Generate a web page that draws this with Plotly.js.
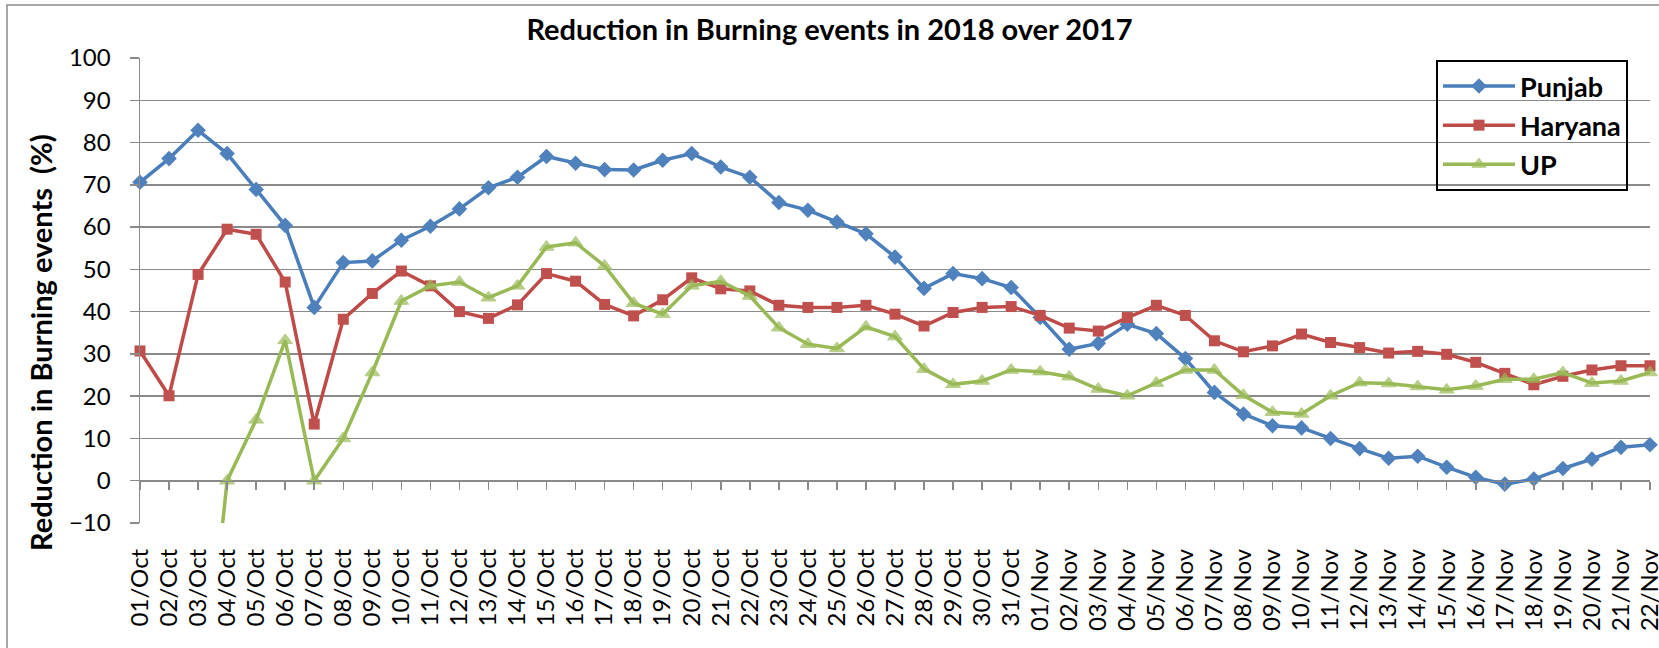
<!DOCTYPE html>
<html>
<head>
<meta charset="utf-8">
<script src="https://cdn.plot.ly/plotly-3.0.1.min.js"></script>
<style>html,body{margin:0;padding:0;background:#fff;}#chart{width:1659px;height:648px;}</style>
</head>
<body>
<div id="chart"></div>
<script>
const dates = ["01/Oct","02/Oct","03/Oct","04/Oct","05/Oct","06/Oct","07/Oct","08/Oct","09/Oct","10/Oct",
  "11/Oct","12/Oct","13/Oct","14/Oct","15/Oct","16/Oct","17/Oct","18/Oct","19/Oct","20/Oct",
  "21/Oct","22/Oct","23/Oct","24/Oct","25/Oct","26/Oct","27/Oct","28/Oct","29/Oct","30/Oct","31/Oct",
  "01/Nov","02/Nov","03/Nov","04/Nov","05/Nov","06/Nov","07/Nov","08/Nov","09/Nov","10/Nov",
  "11/Nov","12/Nov","13/Nov","14/Nov","15/Nov","16/Nov","17/Nov","18/Nov","19/Nov","20/Nov",
  "21/Nov","22/Nov"];

const punjab = [70.6,76.2,82.9,77.4,68.9,60.4,41.0,51.6,52.0,56.9,60.2,64.3,69.3,71.8,76.7,75.1,73.6,73.5,75.8,77.4,
  74.2,71.8,65.8,64.0,61.2,58.4,52.9,45.5,49.0,47.8,45.7,
  38.6,31.1,32.5,37.0,34.8,28.9,20.9,15.8,13.0,12.5,10.0,7.6,5.3,5.8,3.2,0.8,-0.8,0.4,2.9,5.1,7.9,8.5];

const haryana = [30.7,20.1,48.8,59.5,58.3,47.0,13.4,38.2,44.3,49.6,46.1,40.0,38.4,41.6,49.0,47.2,41.7,39.0,42.8,48.0,
  45.4,44.9,41.5,41.0,41.0,41.5,39.4,36.6,39.8,41.0,41.2,
  39.1,36.1,35.4,38.6,41.5,39.1,33.1,30.5,31.9,34.7,32.7,31.5,30.2,30.6,29.9,28.0,25.4,22.7,24.7,26.2,27.2,27.2];

const up = [null,null,-65,0,14.4,33.2,0,10.0,25.6,42.5,46.1,47.0,43.3,46.1,55.3,56.3,50.8,42.0,39.4,46.1,
  47.2,43.7,36.2,32.3,31.3,36.4,34.1,26.4,22.8,23.6,26.2,
  25.8,24.6,21.7,20.1,23.1,26.2,26.2,20.2,16.2,15.8,20.1,23.2,23.0,22.3,21.5,22.4,24.0,24.0,25.6,23.1,23.6,25.6];

const seriesNames = ["Punjab","Haryana","UP"];
const yTicks = [-10,0,10,20,30,40,50,60,70,80,90,100];

const yMin = -10, yMax = 100;
const GRID = "#8a8a8a";
const upSizes = up.map(v => (v === null || v < yMin || v > yMax) ? 0 : 13);

const traces = [
  {x: dates, y: punjab, name: seriesNames[0], type: "scatter", mode: "lines+markers",
   legendgroup: "a", cliponaxis: false,
   line: {color: "#4A7EBB", width: 3.5}, marker: {symbol: "diamond", size: 12, color: "#4F81BD"}},
  {x: dates, y: haryana, name: seriesNames[1], type: "scatter", mode: "lines+markers",
   legendgroup: "b", cliponaxis: false,
   line: {color: "#BE4B48", width: 3.5}, marker: {symbol: "square", size: 11, color: "#C0504D"}},
  {x: dates, y: up, name: seriesNames[2], type: "scatter", mode: "lines+markers", xaxis: "x2",
   legendgroup: "c", cliponaxis: false, connectgaps: false,
   line: {color: "#98B954", width: 3.5}, marker: {symbol: "triangle-up", size: upSizes, color: "#9BBB59"}}
];

const font = "Lato, 'Open Sans', sans-serif";
const W = 1659, H = 648, L = 140, R = 9, T = 58, B = 125;
const pw = W - L - R, ph = H - T - B;
const px = v => (v - L) / pw;          // page px -> paper x
const py = v => (H - B - v) / ph;      // page px -> paper y

const layout = {
  width: W, height: H,
  margin: {l: L, r: R, t: T, b: B},
  paper_bgcolor: "#fff", plot_bgcolor: "rgba(0,0,0,0)",
  font: {family: font, color: "#000"},
  title: {text: "<b>Reduction in Burning events in 2018 over 2017</b>",
          font: {family: font, size: 29, color: "#000"},
          x: 0.5, xref: "container", xanchor: "center",
          y: 1 - 30 / H, yref: "container", yanchor: "middle"},
  showlegend: true,
  legend: {x: px(1436), y: py(60), xanchor: "left", yanchor: "top",
           bgcolor: "rgba(0,0,0,0)", bordercolor: "#000", borderwidth: 2,
           font: {family: font, size: 27, color: "#000", weight: "bold"},
           tracegroupgap: 1, itemwidth: 72},
  xaxis: {type: "category", categoryorder: "array", categoryarray: dates,
          range: [0, dates.length - 1], showgrid: false, zeroline: false, showline: false,
          ticks: "", tickangle: -90, ticklabelstandoff: 20,
          tickfont: {family: font, size: 24, color: "#000"}, fixedrange: true},
  xaxis2: {type: "category", categoryorder: "array", categoryarray: dates,
           range: [0, dates.length - 1], overlaying: "x", anchor: "free",
           position: (0 - yMin) / (yMax - yMin), side: "bottom",
           showgrid: false, zeroline: false, showline: true, linecolor: GRID, linewidth: 1.5,
           ticks: "outside", ticklen: 8, tickwidth: 1.5, tickcolor: GRID, showticklabels: false},
  yaxis: {range: [yMin, yMax], tickvals: yTicks, showgrid: true, gridcolor: GRID, gridwidth: 1.5,
          zeroline: false, showline: true, linecolor: GRID, linewidth: 1.5,
          ticks: "outside", ticklen: 9, tickwidth: 1.5, tickcolor: GRID, ticklabelstandoff: 14,
          tickfont: {family: font, size: 24, color: "#000"}},
  annotations: [{text: "<b>Reduction in Burning events\u00a0\u00a0(%)</b>", textangle: -90,
                 xref: "paper", yref: "paper", x: px(40), y: py(343),
                 xanchor: "center", yanchor: "middle", showarrow: false,
                 font: {family: font, size: 29, color: "#000"}}],
  shapes: [{type: "rect", xref: "paper", yref: "paper", layer: "below",
            x0: px(7), x1: px(1675), y0: py(660), y1: py(5),
            line: {color: "#8a8a8a", width: 1.5}, fillcolor: "rgba(0,0,0,0)"}]
};

Plotly.newPlot("chart", traces, layout, {displayModeBar: false, staticPlot: true});
</script>
</body>
</html>
